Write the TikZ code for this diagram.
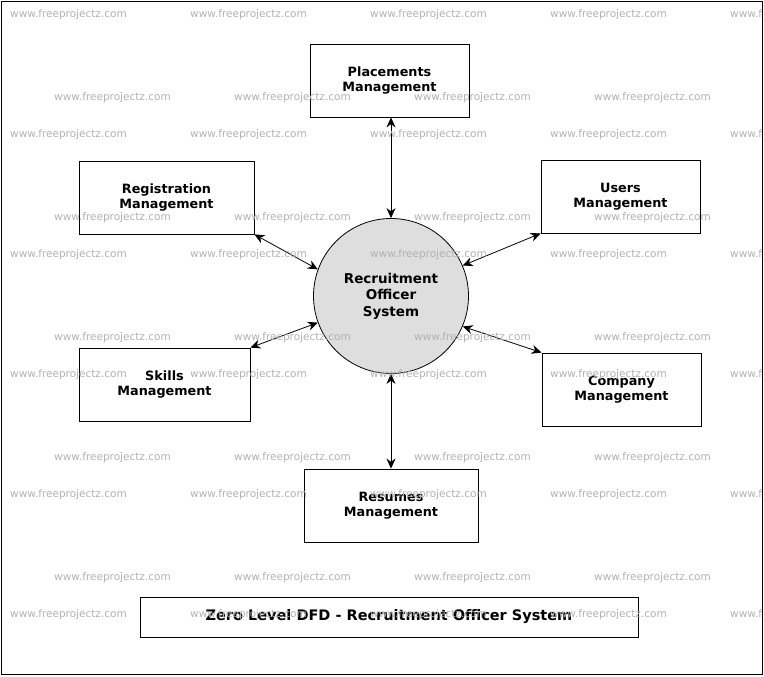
\documentclass[tikz,border=0pt]{standalone}
\usepackage{fontspec}
\setmainfont{DejaVu Sans}
\usetikzlibrary{arrows.meta}
\begin{document}
\begin{tikzpicture}[x=1pt,y=-1pt,
  box/.style={draw,thick,fill=white,minimum width=#1,minimum height=73pt,align=center,font=\bfseries\fontsize{12.8}{15.5}\selectfont},
  arr/.style={thick,{Stealth[length=10pt,width=9pt]}-{Stealth[length=10pt,width=9pt]}},
  wm/.style={text=black!30,font=\fontsize{10.5}{12}\selectfont,anchor=west,inner sep=0}]
\useasboundingbox (0,0) rectangle (764,677);
\node[circle,draw,thick,fill=black!13,minimum size=155pt,align=center,font=\bfseries\fontsize{13.5}{16.5}\selectfont] (c) at (391,296) {Recruitment\\Officer\\System};
\node[box=159pt] (p) at (389.5,80.5) {Placements\\Management};
\node[box=175pt] (r) at (166.5,197.5) {Registration\\Management};
\node[box=159pt] (u) at (620.5,196.5) {Users\\Management};
\node[box=171pt] (s) at (164.5,384.5) {Skills\\Management};
\node[box=159pt] (m) at (621.5,389.5) {Company\\Management};
\node[box=174pt] (e) at (391,505.5) {Resumes\\Management};
\node[draw,thick,minimum width=498pt,minimum height=40pt,font=\bfseries\fontsize{14.5}{16}\selectfont] (t) at (389,617) {Zero Level DFD - Recruitment Officer System};
\draw[arr] (p.south -| c) -- (c.north);
\draw[arr] (e.north -| c) -- (c.south);
\draw[arr] (r.south east) -- (c.160);
\draw[arr] (u.south west) -- (c.23);
\draw[arr] (s.north east) -- (c.200);
\draw[arr] (m.north west) -- (c.337);
\begin{scope}
\clip (1,1) rectangle (762,674);
\foreach \y in {15,135,255,375,495,615}{\foreach \x in {10,190,370,550,730}{\node[wm] (w\x-\y) at (\x,\y) {www.freeprojectz.com};}}
\foreach \y in {98,218,338,458,578}{\foreach \x in {54,234,414,594}{\node[wm] (v\x-\y) at (\x,\y) {www.freeprojectz.com};}}
\end{scope}
\draw[thick] (1,1) rectangle (762,674);
\end{tikzpicture}
\end{document}
